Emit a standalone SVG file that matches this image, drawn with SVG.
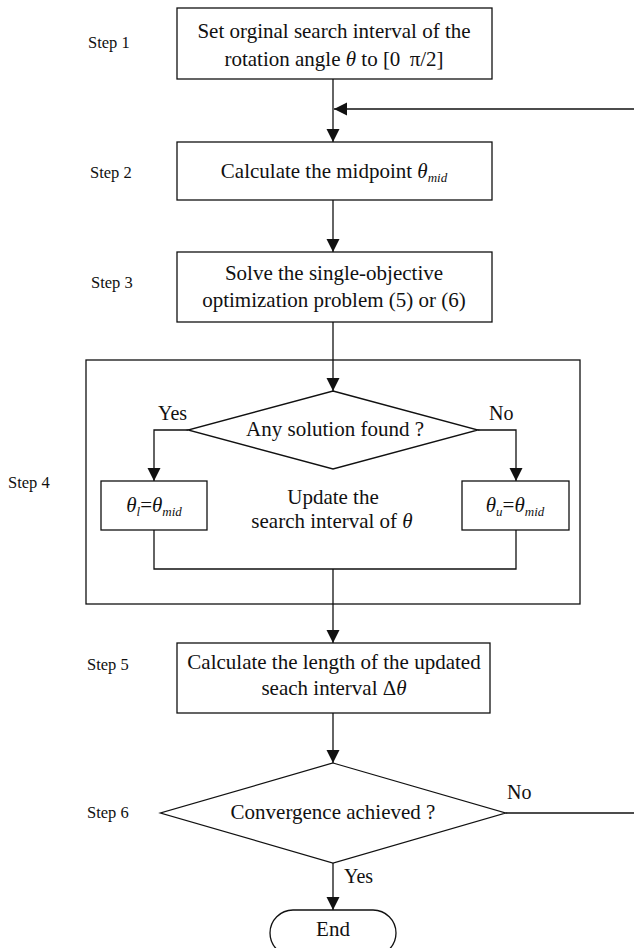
<svg xmlns="http://www.w3.org/2000/svg" width="634" height="948" viewBox="0 0 634 948">
<defs>
<marker id="ah" markerUnits="userSpaceOnUse" markerWidth="14" markerHeight="14" refX="13" refY="6.5" orient="auto">
<path d="M0,0 L13,6.5 L0,13 Z" fill="#111"/>
</marker>
</defs>
<style>
.box{fill:#fff;stroke:#111;stroke-width:1.3}
.ln{fill:none;stroke:#111;stroke-width:1.3}
.t{font-family:"Liberation Serif","Times New Roman",serif;font-size:21px;fill:#111;text-anchor:middle}
.s{font-family:"Liberation Serif","Times New Roman",serif;font-size:16.5px;fill:#111}
.lab{font-family:"Liberation Serif","Times New Roman",serif;font-size:20px;fill:#111}
.i{font-style:italic}
.sub{font-style:italic;font-size:13px}
</style>
<rect width="634" height="948" fill="#fff"/>
<g id="step-labels">
<text class="s" x="88" y="48">Step 1</text>
<text class="s" x="90" y="178">Step 2</text>
<text class="s" x="91" y="288">Step 3</text>
<text class="s" x="8" y="488">Step 4</text>
<text class="s" x="87" y="670">Step 5</text>
<text class="s" x="87" y="818">Step 6</text>
</g>
<g id="step4-frame">
<rect class="box" x="86" y="360" width="494" height="244" fill="none"/>
</g>
<g id="connectors">
<path class="ln" d="M333,79 V142" marker-end="url(#ah)"/>
<path class="ln" d="M634,109 H334" marker-end="url(#ah)"/>
<path class="ln" d="M333,200 V252" marker-end="url(#ah)"/>
<path class="ln" d="M333,322 V391" marker-end="url(#ah)"/>
<path class="ln" d="M188,430 H154 V481" marker-end="url(#ah)"/>
<path class="ln" d="M478,430 H516 V481" marker-end="url(#ah)"/>
<path class="ln" d="M154,530 V569 H516 V530"/>
<path class="ln" d="M333,569 V643" marker-end="url(#ah)"/>
<path class="ln" d="M333,713 V763" marker-end="url(#ah)"/>
<path class="ln" d="M333,863 V910" marker-end="url(#ah)"/>
<path class="ln" d="M505.5,813 H634"/>
<text class="lab" x="158" y="420">Yes</text>
<text class="lab" x="489" y="420">No</text>
<text class="lab" x="507" y="799">No</text>
<text class="lab" x="344" y="883">Yes</text>
</g>
<g id="step1">
<rect class="box" x="177" y="8" width="315" height="71"/>
<text class="t" x="334" y="38">Set orginal search interval of the</text>
<text class="t" x="334" y="66">rotation angle <tspan class="i">θ</tspan> to [0  <tspan dx="4">π/2]</tspan></text>
</g>
<g id="step2">
<rect class="box" x="177" y="142" width="315" height="58"/>
<text class="t" x="334" y="178">Calculate the midpoint <tspan class="i">θ</tspan><tspan class="sub" dy="4">mid</tspan></text>
</g>
<g id="step3">
<rect class="box" x="177" y="252" width="315" height="70"/>
<text class="t" x="334" y="280">Solve the single-objective</text>
<text class="t" x="334" y="307">optimization problem (5) or (6)</text>
</g>
<g id="decision1">
<polygon class="box" points="333,391 478,430 333,469 188,430"/>
<text class="t" x="335" y="436">Any solution found ?</text>
</g>
<g id="update-label">
<text class="t" x="333" y="504">Update the</text>
<text class="t" x="332" y="528">search interval of <tspan class="i">θ</tspan></text>
</g>
<g id="box-lower">
<rect class="box" x="101" y="481" width="106" height="49"/>
<text class="t" x="154" y="512"><tspan class="i">θ</tspan><tspan class="sub" dy="4">l</tspan><tspan dy="-4">=</tspan><tspan class="i">θ</tspan><tspan class="sub" dy="4">mid</tspan></text>
</g>
<g id="box-upper">
<rect class="box" x="462" y="481" width="107" height="49"/>
<text class="t" x="515" y="512"><tspan class="i">θ</tspan><tspan class="sub" dy="4">u</tspan><tspan dy="-4">=</tspan><tspan class="i">θ</tspan><tspan class="sub" dy="4">mid</tspan></text>
</g>
<g id="step5">
<rect class="box" x="177" y="643" width="313" height="70"/>
<text class="t" x="334" y="669">Calculate the length of the updated</text>
<text class="t" x="334" y="695">seach interval Δ<tspan class="i">θ</tspan></text>
</g>
<g id="decision2">
<polygon class="box" points="333,763 505.5,813 333,863 160.5,813"/>
<text class="t" x="333" y="819">Convergence achieved ?</text>
</g>
<g id="end">
<rect class="box" x="270" y="910" width="126" height="46" rx="23" ry="23"/>
<text class="t" x="333" y="936">End</text>
</g>
</svg>
